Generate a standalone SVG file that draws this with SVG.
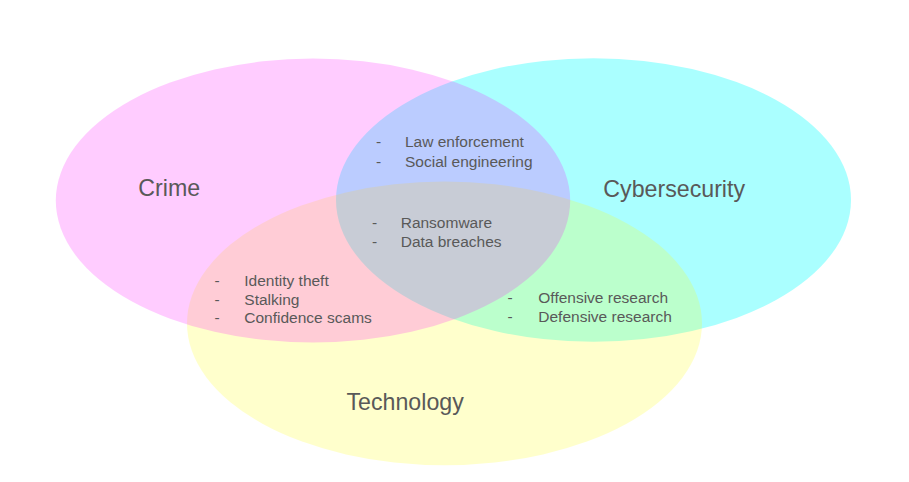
<svg xmlns="http://www.w3.org/2000/svg" width="909" height="482" viewBox="0 0 909 482">
  <style>
    .set { stroke: none; }
    .cyber { fill: #00ffff; fill-opacity: 0.333; }
    .tech { fill: #ffff00; fill-opacity: 0.2; }
    .crime { fill: #ff00ff; fill-opacity: 0.2; }
    text { font-family: "Liberation Sans", Arial, sans-serif; fill: #595959; }
    .title { font-size: 23.2px; }
    .item { font-size: 15.5px; }
  </style>
  <rect width="909" height="482" fill="#ffffff"/>

  <!-- set circles (drawn bottom to top) -->
  <g id="cybersecurity">
    <ellipse class="set cyber" cx="593.5" cy="200" rx="257.5" ry="141.8"/>
    <text class="title" x="603.3" y="196.7">Cybersecurity</text>
  </g>
  <g id="technology">
    <ellipse class="set tech" cx="444.5" cy="323.4" rx="257.5" ry="141.8"/>
    <text class="title" x="346.5" y="409.5">Technology</text>
  </g>
  <g id="crime">
    <ellipse class="set crime" cx="313" cy="200.6" rx="257.2" ry="142"/>
    <text class="title" x="138.3" y="196">Crime</text>
  </g>

  <!-- overlap labels -->
  <g id="crime-cyber">
    <text class="item" x="376" y="147.3">-</text>
    <text class="item" x="405" y="147.3">Law enforcement</text>
    <text class="item" x="376" y="166.6">-</text>
    <text class="item" x="405" y="166.6">Social engineering</text>
  </g>
  <g id="all-three">
    <text class="item" x="372" y="228.3">-</text>
    <text class="item" x="400.7" y="228.3">Ransomware</text>
    <text class="item" x="372" y="247.3">-</text>
    <text class="item" x="400.7" y="247.3">Data breaches</text>
  </g>
  <g id="crime-tech">
    <text class="item" x="214.5" y="285.7">-</text>
    <text class="item" x="244.3" y="285.7">Identity theft</text>
    <text class="item" x="214.5" y="304.5">-</text>
    <text class="item" x="244.3" y="304.5">Stalking</text>
    <text class="item" x="214.5" y="323.3">-</text>
    <text class="item" x="244.3" y="323.3">Confidence scams</text>
  </g>
  <g id="cyber-tech">
    <text class="item" x="507.6" y="303.3">-</text>
    <text class="item" x="538.3" y="303.3">Offensive research</text>
    <text class="item" x="507.6" y="322">-</text>
    <text class="item" x="538.3" y="322">Defensive research</text>
  </g>
</svg>
